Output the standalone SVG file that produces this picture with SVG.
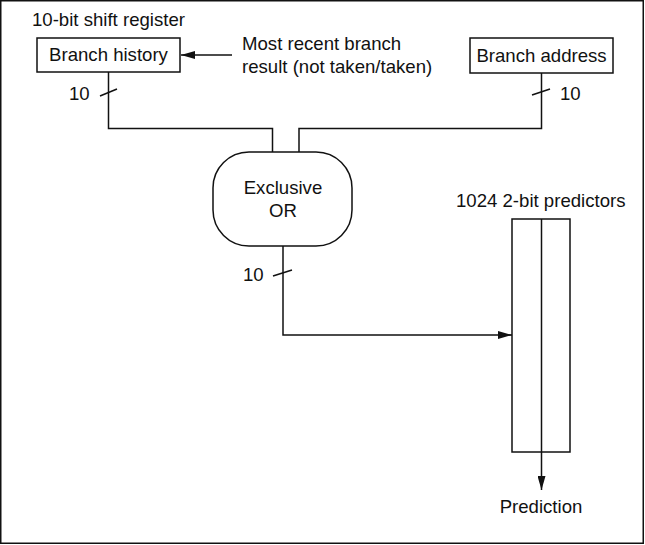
<svg xmlns="http://www.w3.org/2000/svg" width="645" height="545" viewBox="0 0 645 545">
<defs>
<style>
text{font-family:"Liberation Sans",Arial,sans-serif;font-size:18.6px;fill:#111}
.c{text-anchor:middle}
.box{fill:#fff;stroke:#111;stroke-width:1.5}
.ln{fill:none;stroke:#111;stroke-width:1.5}
</style>
<marker id="ah" viewBox="0 0 14 8" refX="14" refY="4" markerWidth="14" markerHeight="8" markerUnits="userSpaceOnUse" orient="auto">
<path d="M0,0 L14,4 L0,8 z" fill="#111"/>
</marker>
</defs>
<rect x="0.75" y="0.75" width="642.5" height="542.5" fill="#fff" stroke="#111" stroke-width="1.5"/>
<g id="connectors">
<path class="ln" d="M108.5,72 V128.5 H272.5 V152"/>
<path class="ln" d="M541.5,72 V128.5 H299 V152"/>
<path class="ln" d="M283,246 V335 H512" marker-end="url(#ah)"/>
<path class="ln" d="M232,55 H181" marker-end="url(#ah)"/>
<path class="ln" d="M541.5,219 V490" marker-end="url(#ah)"/>
<line class="ln" x1="100" y1="96" x2="117" y2="89"/>
<line class="ln" x1="532" y1="95" x2="550" y2="89"/>
<line class="ln" x1="273" y1="276" x2="292" y2="270"/>
<text x="69" y="100">10</text>
<text x="560" y="100">10</text>
<text x="243" y="281">10</text>
</g>
<g id="branch-history">
<text x="32" y="26">10-bit shift register</text>
<rect class="box" x="37" y="38" width="143" height="34"/>
<text class="c" x="108.5" y="61">Branch history</text>
</g>
<g id="recent-result">
<text x="242" y="50">Most recent branch</text>
<text x="242" y="73">result (not taken/taken)</text>
</g>
<g id="branch-address">
<rect class="box" x="470" y="38" width="143" height="35"/>
<text class="c" x="541.5" y="62">Branch address</text>
</g>
<g id="xor">
<rect class="box" x="213" y="152" width="139" height="94" rx="36" ry="36"/>
<text class="c" x="283" y="194">Exclusive</text>
<text class="c" x="283" y="217">OR</text>
</g>
<g id="predictors">
<text x="456" y="207">1024 2-bit predictors</text>
<rect class="box" x="512" y="219" width="58" height="233"/>
<line class="ln" x1="541.5" y1="219" x2="541.5" y2="452"/>
</g>
<g id="prediction">
<text class="c" x="541" y="513">Prediction</text>
</g>
</svg>
